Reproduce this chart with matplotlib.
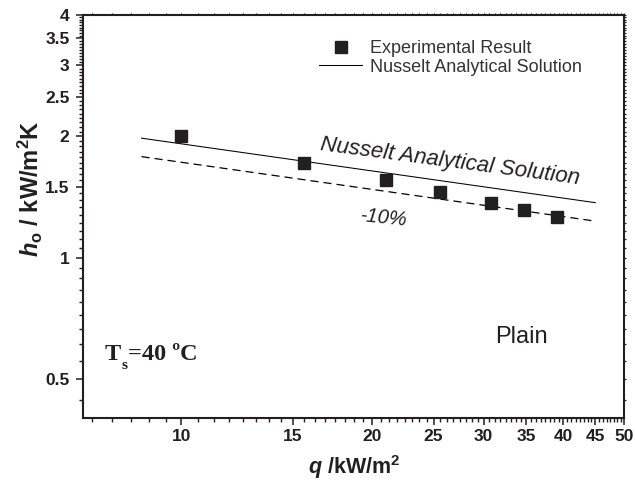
import numpy as np
import matplotlib
matplotlib.use("Agg")
import matplotlib.pyplot as plt
from matplotlib.lines import Line2D

plt.rcParams["font.family"] = ["Liberation Sans", "DejaVu Sans"]
plt.rcParams["mathtext.fontset"] = "custom"
plt.rcParams["mathtext.rm"] = "Liberation Sans:bold"
plt.rcParams["mathtext.it"] = "Liberation Sans:italic:bold"
plt.rcParams["mathtext.bf"] = "Liberation Sans:bold"

# Measured condensation heat transfer coefficient vs. heat flux
q_exp = [10.0, 15.6, 21.0, 25.6, 30.8, 34.7, 39.1]
h_exp = [2.00, 1.72, 1.555, 1.455, 1.37, 1.315, 1.265]

# Nusselt analytical solution (straight on log-log axes)
q_nusselt = [8.65, 45.0]
h_nusselt = [1.98, 1.37]
nusselt_margin = 0.10  # -10% band

x_ticks = [10, 15, 20, 25, 30, 35, 40, 45, 50]
y_ticks = [0.5, 1, 1.5, 2, 2.5, 3, 3.5, 4]

INK = "#231f20"

fig = plt.figure(figsize=(6.35, 4.83), dpi=100)
ax = fig.add_axes([83.3 / 635, 1 - 418.3 / 483, (624.3 - 83.3) / 635, (418.3 - 15) / 483])
ax.set_xscale("log")
ax.set_yscale("log")
ax.set_xlim(7, 50)
ax.set_ylim(0.4, 4)

h_lower = [h * (1 - nusselt_margin) for h in h_nusselt]
ax.plot(q_nusselt, h_nusselt, color="black", lw=0.75, zorder=2)
ax.plot(q_nusselt, h_lower, color="black", lw=0.9, ls=(0, (6.5, 4)), zorder=2)
ax.plot(q_exp, h_exp, ls="none", marker="s", ms=8.4, color=INK, zorder=3)

# ticks: Origin-style linear minor ticks on the log axes
x_minor = [10 - k * 5 / 9 for k in range(1, 6)]
for a in range(10, 50, 5):
    x_minor += [a + k * 5 / 8 for k in range(1, 8)]
y_minor = [0.5 - 0.5 / 9]
for a in np.arange(0.5, 4, 0.5):
    y_minor += [a + k * 0.5 / 9 for k in range(1, 9)]

ax.set_xticks(x_ticks)
ax.set_xticklabels([str(v) for v in x_ticks])
ax.set_xticks(x_minor, minor=True)
ax.set_xticklabels([], minor=True)
ax.set_yticks(y_ticks)
ax.set_yticklabels([f"{v:g}" for v in y_ticks])
ax.set_yticks(y_minor, minor=True)
ax.set_yticklabels([], minor=True)

for s in ax.spines.values():
    s.set_linewidth(1.5)
    s.set_color(INK)
ax.tick_params(which="major", direction="out", length=5, width=1.1, color=INK,
               labelsize=12.5, pad=3)
ax.tick_params(axis="y", which="major", pad=5)
ax.tick_params(which="minor", direction="out", length=2.6, width=1.0, color=INK)
for lab in ax.get_xticklabels() + ax.get_yticklabels():
    lab.set_fontweight("bold")
    lab.set_color(INK)

# short mirrored ticks on top and right
axt = ax.twiny()
axt.set_xscale("log")
axt.set_xlim(ax.get_xlim())
axt.set_xticks(x_ticks)
axt.set_xticks(x_minor, minor=True)
axt.tick_params(which="both", direction="out", length=1.6, width=0.9, color=INK,
                labeltop=False)
axr = ax.twinx()
axr.set_yscale("log")
axr.set_ylim(ax.get_ylim())
axr.set_yticks(y_ticks)
axr.set_yticks(y_minor, minor=True)
axr.tick_params(which="both", direction="out", length=1.6, width=0.9, color=INK,
                labelright=False)
for a2 in (axt, axr):
    for s in a2.spines.values():
        s.set_visible(False)

ax.set_xlabel(r"$q$ /kW/m$^2$", fontsize=15.5, fontweight="bold", color=INK, labelpad=6)
ax.set_ylabel(r"$h_{\mathrm{o}}$ / kW/m$^2$K", fontsize=17, fontweight="bold", color=INK)
ax.yaxis.set_label_coords(-0.07, 0.57)

# annotations
ax.text(16.5, 1.85, "Nusselt Analytical Solution", fontsize=16, style="italic",
        color=INK, rotation=-7.5, rotation_mode="anchor", ha="left", va="baseline")
ax.text(19.1, 1.232, "-10%", fontsize=14.5, style="italic", color=INK,
        rotation=-6, rotation_mode="anchor", ha="left", va="baseline")
ax.text(31.3, 0.616, "Plain", fontsize=17, color=INK, ha="left", va="baseline")

serif = dict(family="Liberation Serif", fontweight="bold", color=INK)
t1 = ax.text(0.04, 0.132, "T", transform=ax.transAxes, fontsize=17.5,
             ha="left", va="bottom", **serif)
t2 = ax.annotate("s", xy=(1, 0), xycoords=t1, xytext=(0.5, -5), textcoords="offset points",
                 fontsize=11, ha="left", va="bottom", **serif)
ax.annotate("=40 \u00baC", xy=(1, 0), xycoords=t2, xytext=(0, 5), textcoords="offset points",
            fontsize=17.5, ha="left", va="bottom", **serif)

handles = [
    Line2D([], [], ls="none", marker="s", ms=8.4, color=INK),
    Line2D([], [], color="black", lw=0.75),
]
leg = ax.legend(handles, ["Experimental Result", "Nusselt Analytical Solution"],
                loc="upper left", bbox_to_anchor=(319 / 635, 1 - 40 / 483),
                bbox_transform=fig.transFigure, frameon=False, fontsize=13,
                borderpad=0, borderaxespad=0, handlelength=2.4, handletextpad=0.4,
                labelspacing=0.1)
for t in leg.get_texts():
    t.set_color("#333333")

fig.savefig("out.png", dpi=100)
